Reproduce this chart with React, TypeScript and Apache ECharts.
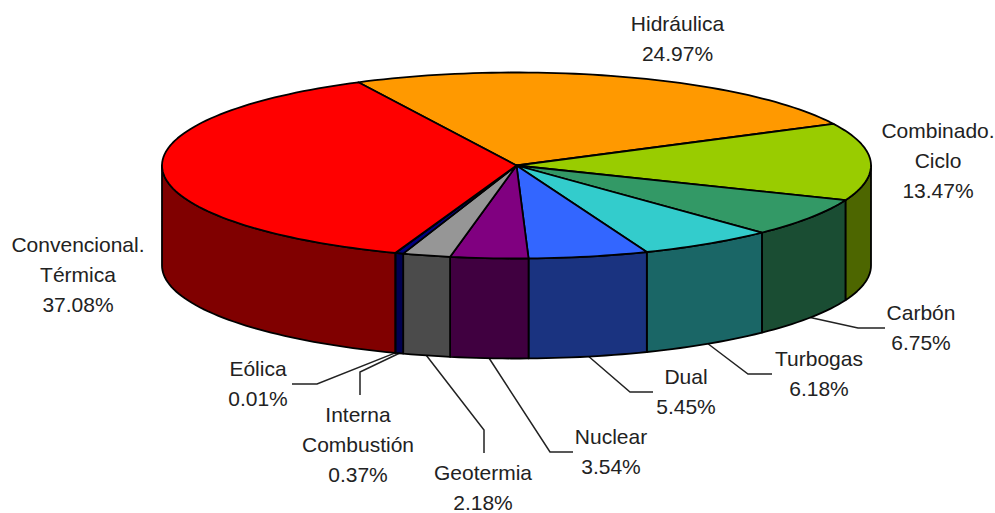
import React, { useEffect, useRef } from "react";
import * as echarts from "echarts";

const names = [
  "Hidráulica",
  "Combinado.\nCiclo",
  "Carbón",
  "Turbogas",
  "Dual",
  "Nuclear",
  "Geotermia",
  "Interna\nCombustión",
  "Eólica",
  "Convencional.\nTérmica",
];
const values = [24.97, 13.47, 6.75, 6.18, 5.45, 3.54, 2.18, 0.37, 0.01, 37.08];
const topColors = ["#FF9900", "#99CC00", "#339966", "#33CCCC", "#3366FF", "#800080", "#969696", "#000080", "#0000FF", "#FF0000"];
const sideColors = ["#804D00", "#4D6600", "#1A4D33", "#1A6666", "#1A3380", "#400040", "#4B4B4B", "#000050", "#000080", "#800000"];

// layout only
const CX = 516.5, CY = 165.5, RX = 354.5, RY = 93, DEPTH = 100, START = -26.5;
const labelPos: [number, number][] = [
  [677.5, 38.5], [938, 160], [921, 327], [819, 373], [686, 391],
  [611, 451], [483, 487], [358, 444], [258, 383], [78, 274],
];
const elbows: ([number, number][] | null)[] = [
  null, null,
  [[858, 328], [885, 328]],
  [[748, 374], [772, 374]],
  [[630, 392], [653, 392]],
  [[550, 452], [573, 452]],
  [[484, 430], [484, 453]],
  [[360, 372], [360, 395]],
  [[317, 384], [292, 384]],
  null,
];

const total = values.reduce((a, b) => a + b, 0);
const bounds: number[] = [];
values.reduce((acc, v, i) => {
  bounds[i] = acc;
  return acc + (v / total) * 360;
}, START);
bounds.push(START + 360);

const pt = (deg: number, dy = 0): [number, number] => {
  const r = (deg * Math.PI) / 180;
  return [CX + RX * Math.sin(r), CY - RY * Math.cos(r) + dy];
};
const arc = (a: number, b: number, dy = 0) => {
  const out: [number, number][] = [];
  const n = Math.max(2, Math.ceil(Math.abs(b - a) / 1.5));
  for (let i = 0; i <= n; i++) out.push(pt(a + ((b - a) * i) / n, dy));
  return out;
};
const stroke = { stroke: "#000", lineWidth: 1.8, lineJoin: "round" as const };

function wall(params: any) {
  const i = params.dataIndex;
  const a = Math.max(bounds[i], 90);
  const b = Math.min(bounds[i + 1], 270);
  if (b <= a) return { type: "group", children: [] };
  const points = [...arc(a, b), ...arc(b, a, DEPTH)];
  return { type: "polygon", shape: { points }, style: { fill: sideColors[i], ...stroke } };
}
function top(params: any) {
  const i = params.dataIndex;
  const points = [[CX, CY], ...arc(bounds[i], bounds[i + 1])];
  return { type: "polygon", shape: { points }, style: { fill: topColors[i], ...stroke } };
}
function leader(params: any) {
  const i = params.dataIndex;
  const e = elbows[i];
  if (!e) return { type: "group", children: [] };
  const mid = (bounds[i] + bounds[i + 1]) / 2;
  return {
    type: "polyline",
    shape: { points: [pt(mid, DEPTH), ...e] },
    style: { fill: "none", stroke: "#222", lineWidth: 1.5 },
  };
}
function label(params: any) {
  const i = params.dataIndex;
  const [x, y] = labelPos[i];
  return {
    type: "text",
    x,
    y,
    style: {
      text: `${names[i]}\n${values[i].toFixed(2)}%`,
      fill: "#222",
      font: "21px 'Liberation Sans', Arial, sans-serif",
      lineHeight: 30,
      align: "center",
      verticalAlign: "middle",
    },
  };
}

export default function App() {
  const ref = useRef<HTMLDivElement>(null);
  useEffect(() => {
    const chart = echarts.init(ref.current!, undefined, { renderer: "svg" });
    const mk = (renderItem: any, z: number) => ({
      type: "custom",
      coordinateSystem: "none",
      data: values,
      renderItem,
      z,
      silent: true,
    });
    chart.setOption({
      animation: false,
      backgroundColor: "#fff",
      series: [mk(leader, 1), mk(wall, 2), mk(top, 3), mk(label, 4)],
    });
    return () => chart.dispose();
  }, []);
  return <div ref={ref} style={{ position: "fixed", left: 0, top: 0, width: 995, height: 513 }} />;
}
